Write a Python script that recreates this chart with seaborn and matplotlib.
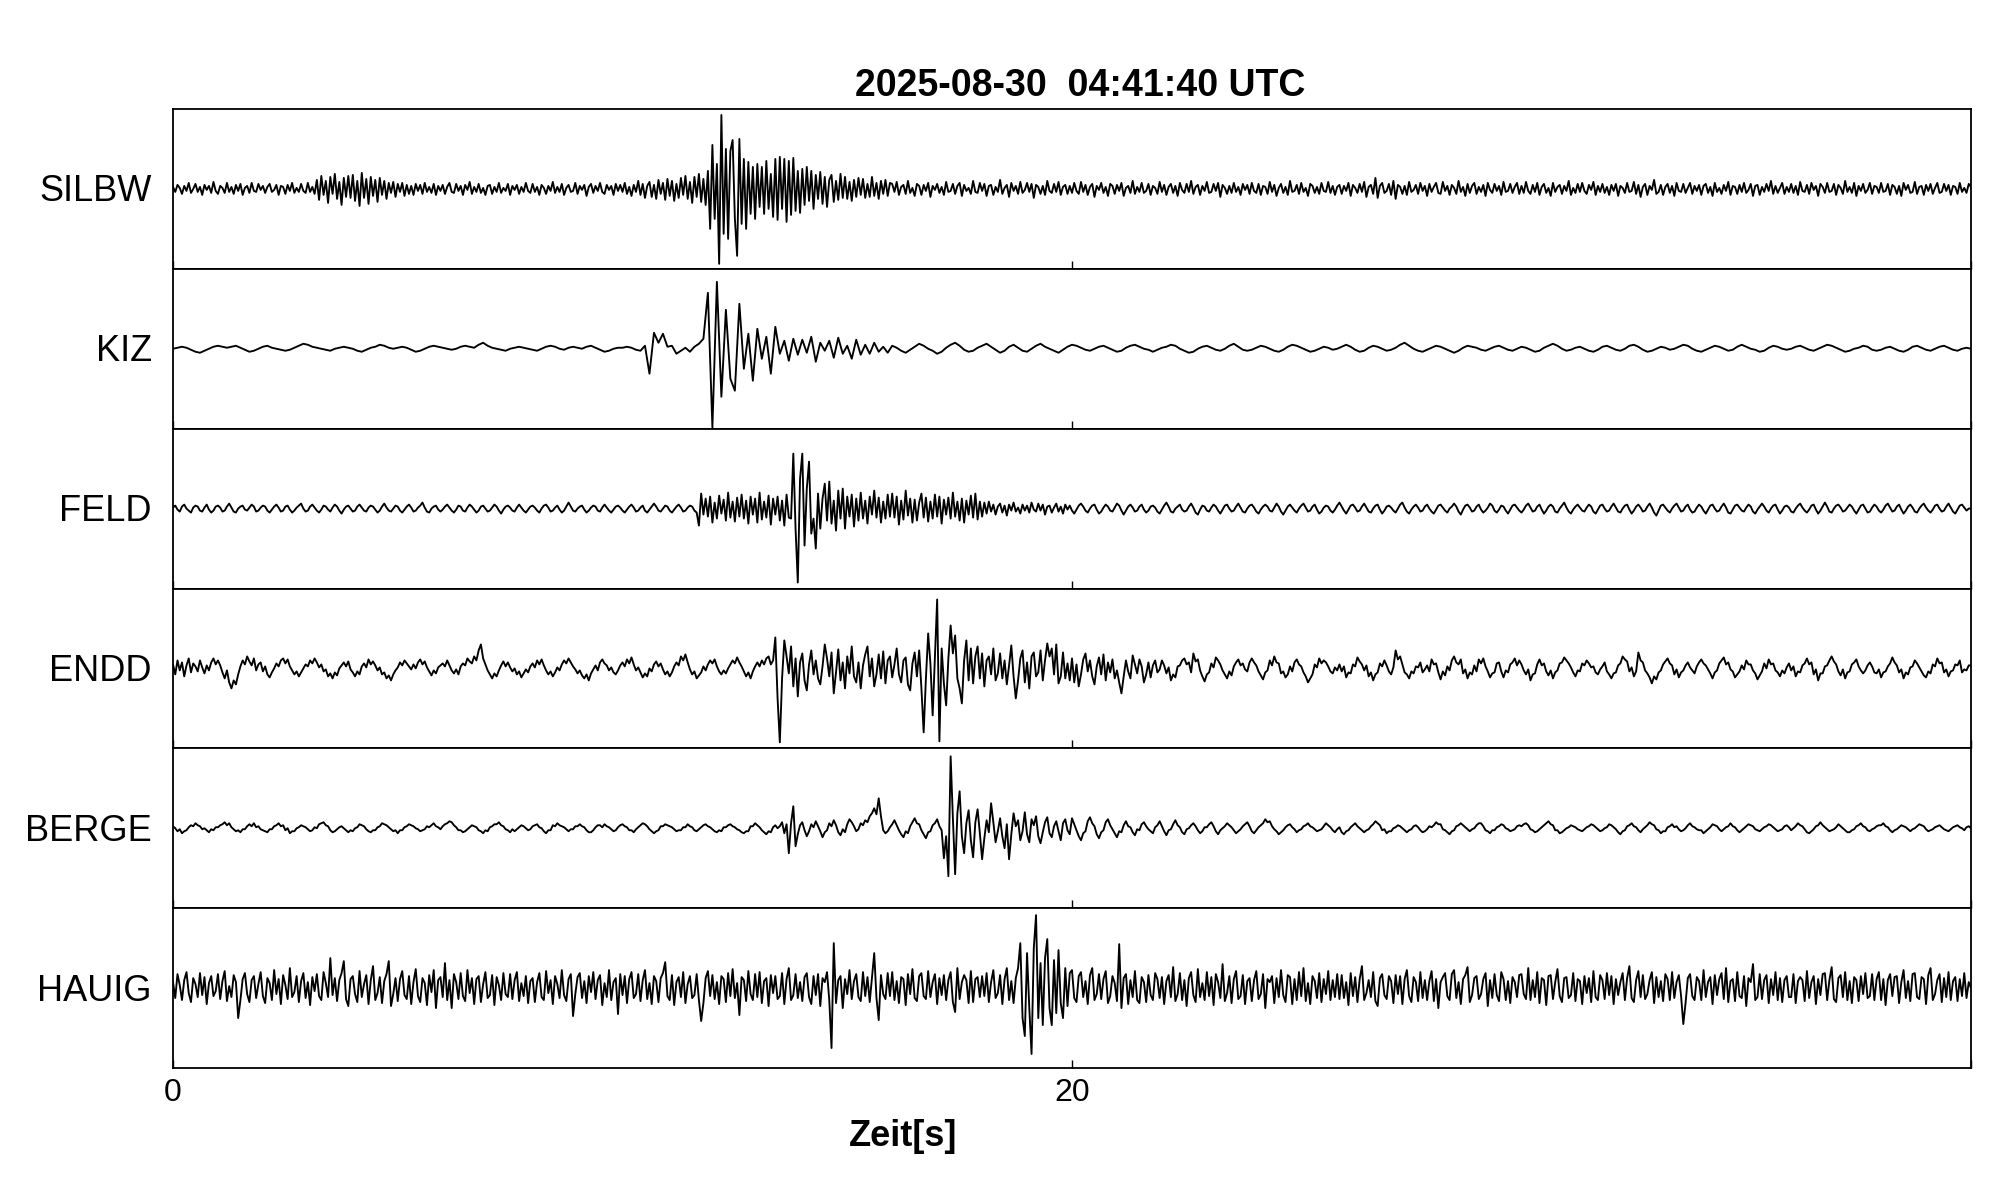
import numpy as np
import pandas as pd
import matplotlib
matplotlib.use("Agg")
import matplotlib.pyplot as plt
from matplotlib.transforms import offset_copy
import seaborn as sns

# ---------------- data ----------------
stations = ["SILBW", "KIZ", "FELD", "ENDD", "BERGE", "HAUIG"]
title_text = "2025-08-30  04:41:40 UTC"
xlabel_text = "Zeit[s]"
duration_s = 40.0
xtick_values = [0, 20, 40]
xtick_labels = ["0", "20", ""]

# SILBW: one sample every 0.05 s, rows of 2 s
SILBW = [
    2, -3, 4, 1, -5, 3, -2, 6, -4, 0, 5, -3, 2, -6, 4, -1, 3, -4, 7, -2, -5, 3, 1, -4, 6, -3, 2, -5, 4, -2, 5, -6, 1, 3, -4, 6, -2, -3, 5, -1,
    3, -4, 2, 5, -3, -1, 4, -6, 3, 2, -5, 4, -2, 6, -4, 1, -3, 5, -2, -4, 6, -3, 2, -5, 9, -11, 13, -6, 8, -14, 12, -5, 15, -10, 7, -16, 11, -8, 13, -9,
    14, -12, 8, -17, 16, -9, 10, -15, 12, -7, 9, -13, 11, -6, 8, -10, 6, -4, 7, -8, 5, -3, 6, -7, 4, -5, 3, -6, 5, -2, 4, -5, 6, -3, 2, -4, 5, -6, 3, -2,
    4, -5, 2, 6, -3, -4, 5, -2, 3, -6, 4, -1, 7, -5, 2, -3, 5, -4, 1, -6, 3, 4, -5, 2, -3, 6, -4, 1, -2, 5, -6, 3, -1, 4, -5, 2, -3, 6, -2, -4,
    5, -3, 2, -6, 4, 1, -5, 3, -2, 7, -4, 2, -3, 5, -6, 1, 4, -3, -2, 6, -5, 3, -1, 4, -7, 2, 5, -4, 3, -2, 6, -3, -5, 4, -1, 3, -6, 5, -2, 4,
    -3, 6, -5, 2, -7, 4, -3, 8, -6, 5, -9, 3, 7, -8, 4, -10, 9, -5, 6, -11, 10, -7, 8, -12, 5, -9, 11, -6, 13, -10, 7, -14, 12, -8, 15, -13, 10, -16, 18, -40,
    44, -30, 25, -75, 74, -45, 40, -50, 38, 49, -30, -67, 50, -35, 30, -40, 27, -25, 22, -30, 25, -18, 22, -25, 28, -20, 15, -28, 30, -31, 32, -20, 30, -33, 28, -26, 31, -22, 18, -24,
    20, -16, 22, -12, 18, -20, 14, -10, 17, -15, 12, -18, 9, 14, -13, 8, -11, 15, -9, 12, -10, 7, -12, 9, -8, 11, -6, 10, -9, 5, -8, 12, -7, 6, -10, 8, -5, 9, -7, 6,
    5, -3, 7, -6, 2, 4, -5, 8, -4, 1, -7, 5, 3, -6, 4, -2, 6, -8, 3, -1, 5, -4, 2, -6, 7, -3, -2, 5, -5, 3, 6, -7, 4, -2, 1, -5, 8, -3, -4, 6,
    -2, 5, -7, 3, 4, -6, 2, -3, 9, -5, 1, 4, -8, 6, -2, 3, -5, 7, -4, -1, 6, -3, 5, -9, 4, 2, -5, 3, -6, 8, -2, -4, 5, -3, 7, -6, 2, 4, -5, 3,
    -4, 6, -2, -5, 7, -3, 4, -6, 2, 5, -8, 3, -1, 6, -4, 2, -7, 5, 3, -5, 4, -2, 6, -7, 1, 3, -4, 8, -5, 2, -3, 6, -4, -2, 5, -6, 3, 1, -5, 7,
    -3, 4, -6, 2, 5, -4, 3, -7, 6, -1, -4, 5, -3, 8, -5, 2, 4, -6, 3, -2, 7, -4, -3, 5, -2, 6, -8, 4, 1, -5, 3, -4, 6, -3, 2, -6, 5, -1, 4, -5,
    6, -2, -4, 5, -6, 3, 2, -5, 7, -3, 4, -7, 1, 5, -4, 2, -6, 8, -3, -2, 4, -5, 6, -3, 1, -7, 5, 3, -4, 2, -5, 6, -2, -3, 7, -4, 3, -6, 2, 4,
    -5, 3, -2, 6, -7, 4, 1, -4, 5, -3, 7, -8, 2, 4, -5, 11, -9, 3, 6, -4, -2, 5, -6, 8, -10, 4, 2, -5, 3, -6, 7, -3, -1, 4, -5, 6, -2, 3, -7, 5,
    -3, 2, 6, -4, -5, 7, -2, 3, -6, 4, 1, -5, 8, -3, 2, -7, 5, -4, 3, 6, -5, 2, -3, 4, -7, 6, -1, -4, 5, -2, 3, -6, 7, -3, -2, 5, -4, 2, 6, -5,
    3, -4, 7, -2, -5, 4, -3, 6, -6, 2, 5, -4, 1, -7, 6, -3, 2, 4, -5, 3, -2, 8, -6, 1, -4, 5, -3, 6, -2, -5, 4, -1, 7, -6, 3, -3, 5, -4, 2, -6,
    4, -2, 5, -7, 3, 1, -4, 6, -3, -2, 7, -5, 4, -8, 2, 5, -6, 3, -1, 9, -5, -3, 4, -6, 2, 5, -4, 3, -7, 6, -2, -3, 5, -4, 1, 6, -5, 3, -2, 4,
    -6, 3, 5, -4, 2, -7, 6, -3, 1, -5, 4, -2, 7, -6, 3, 2, -5, 4, -3, 6, -4, -1, 5, -7, 3, 4, -6, 2, -3, 5, -2, 8, -5, 3, -4, 1, 6, -5, 2, -3,
    5, -4, 3, -6, 7, -2, -3, 4, -5, 6, -1, 3, -7, 5, 2, -4, 6, -3, -2, 5, -6, 4, 1, -5, 8, -3, 2, -4, 6, -7, 3, -2, 5, -4, -1, 6, -5, 3, 2, -4,
    6, -3, -2, 5, -6, 4, 2, -5, 3, -7, 6, -1, 4, -4, -3, 7, -5, 2, 3, -6, 4, -2, 5, -5, 1, 6, -4, -3, 5, -2, 4, -6, 3, 2, -5, 6, -3, 1, -4, 5,
    2,
]

# KIZ: one sample every 0.1 s, rows of 2 s
KIZ = [
    0, 1, 2, 1, -1, -3, -4, -2, 0, 2, 3, 2, 1, 2, 3, 1, -1, -3, -2, 0,
    2, 3, 1, 0, -1, -2, -1, 1, 3, 5, 4, 2, 1, 0, -1, -2, 0, 1, 2, 1,
    0, -2, -3, -1, 1, 2, 4, 3, 1, 0, 1, 2, 1, -1, -3, -2, 0, 2, 3, 2,
    1, 0, -1, 0, 2, 3, 2, 1, 4, 6, 3, 1, 0, -1, -2, 0, 1, 2, 1, 0,
    -1, -2, 0, 2, 3, 2, 0, -1, 1, 2, 1, 0, 2, 3, 1, -1, -3, -2, 0, 1,
    1, 2, 1, -1, -2, 3, -25, 16, 6, 15, 2, 3, -5, -2, 1, -3, 2, 5, 10, 56,
    -79, 67, -48, 39, -30, -42, 45, -20, 15, -32, 20, -10, 12, -25, 22, -5, 8, -12, 10, -6,
    9, -4, 12, -13, 6, -2, 8, -9, 11, -5, 3, -10, 9, -6, 4, -5, 6, -3, 2, -4,
    3, 1, -2, -4, -1, 2, 5, 3, 0, -2, -5, -3, 1, 4, 6, 3, -1, -3, -2, 1,
    3, 5, 2, -1, -4, -2, 2, 4, 1, -2, -3, 0, 3, 5, 2, 0, -2, -4, -1, 2,
    4, 3, 1, -1, -2, 0, 2, 3, 1, -1, -3, -2, 1, 3, 4, 2, 0, -1, -3, -1,
    1, 2, 4, 3, 0, -2, -4, -3, 0, 2, 3, 1, -1, -2, 0, 3, 5, 2, -1, -2,
    -1, 1, 3, 2, 0, -2, -3, -1, 2, 4, 3, 1, -1, -3, -2, 0, 2, 1, -1, 0,
    2, 4, 2, -1, -3, -2, 1, 3, 2, 0, -2, -1, 1, 4, 6, 3, 0, -2, -3, -1,
    1, 3, 2, 0, -2, -4, -2, 1, 3, 2, 1, -1, -2, 0, 2, 3, 1, -1, -2, 0,
    2, 1, -1, -3, -2, 1, 3, 5, 3, 0, -2, -1, 1, 2, 0, -2, -3, -1, 2, 3,
    1, -1, -2, 0, 3, 4, 2, -1, -3, -2, 0, 2, 1, -1, 0, 2, 4, 3, 0, -2,
    -3, -1, 1, 3, 2, 0, -2, -1, 2, 4, 2, 0, -1, -3, -2, 1, 3, 2, 0, -1,
    0, 2, 3, 1, -1, -2, 0, 2, 4, 3, 1, -1, -3, -2, 0, 1, 3, 2, -1, -2,
    -1, 1, 2, 0, -2, -3, -1, 2, 3, 1, -1, -2, 0, 2, 3, 1, -1, -2, 0, 1,
    0,
]

# FELD, ENDD, BERGE, HAUIG: one sample every 0.05 s, rows of 2 s
FELD = [
    1, 3, -1, -3, 2, 4, 0, -2, -4, 1, 3, 2, -2, -3, 1, 4, -1, -4, -2, 2, 3, 1, -3, -2, 2, 5, 1, -3, -4, 0, 2, 3, -1, -2, 1, 4, 2, -3, -2, 1,
    3, 2, -2, -4, -1, 2, 4, 1, -3, -2, 2, 3, -1, -4, -2, 1, 3, 5, 0, -3, -2, 2, 4, 1, -2, -4, -1, 3, 2, -1, -3, 1, 4, 2, -2, -5, -1, 2, 3, 0,
    -3, -2, 2, 4, 1, -2, -3, 1, 3, 2, -1, -4, -2, 2, 5, 1, -2, -3, 0, 3, 2, -2, -4, -1, 2, 4, 1, -3, -2, 1, 3, 6, 1, -3, -4, 0, 2, 3, -1, -3,
    -1, 2, 4, 1, -2, -4, -1, 3, 2, -2, -3, 1, 4, 2, -1, -4, -2, 2, 3, 0, -3, -2, 1, 4, 2, -2, -5, -1, 2, 3, 1, -2, -3, 1, 4, 1, -2, -4, -1, 2,
    3, 1, -2, -4, 0, 3, 4, 1, -3, -2, 1, 3, -1, -4, -2, 2, 6, 2, -2, -3, 0, 2, 3, -1, -4, -2, 1, 3, 2, -2, -3, 1, 4, 1, -2, -4, -1, 2, 3, 1,
    -2, -4, -1, 2, 4, 1, -3, -2, 1, 3, -2, -4, -1, 2, 5, 2, -2, -3, 0, 3, 2, -2, -4, -1, 2, 4, 1, -3, -2, 1, 3, 2, -2, -4, -17, 15, -6, 10, -8, 12,
    -14, 6, -10, 13, -5, 9, -12, 16, -9, 7, -13, 11, -8, 14, -10, 8, -15, 12, -6, 10, -14, 16, -11, 7, -9, 13, -16, 10, -6, 12, -12, 8, -17, 14, -9, -10, 55, -20, -74, 30,
    55, -37, 20, 47, -25, -10, -40, 15, -20, 10, 25, -12, 27, -15, 8, -22, 18, -10, 20, -20, 12, -8, 14, -18, 10, -12, 16, -10, 8, -15, 12, -6, 18, -9, 11, -14, 7, -10, 14, -8,
    15, -9, 12, -16, 8, -11, 18, -7, 10, -14, 9, -12, 6, 15, -9, 11, -13, 7, -10, 14, -8, 12, -15, 9, -6, 11, -10, 16, -8, 7, -12, 10, -14, 8, -6, 13, -9, 15, -11, 7,
    -8, 6, -5, 7, -3, 4, -6, 2, 5, -4, 3, -7, 4, -2, 6, -3, 1, -5, 4, -2, 3, -4, 6, -1, -3, 5, -2, 4, -6, 2, 3, -4, 1, 5, -3, 2, -5, 4, -1, 3,
    -2, -5, -1, 3, 5, 2, -2, -4, 0, 3, 4, -1, -5, -3, 1, 4, 2, -2, -3, 1, 5, 3, -2, -6, -2, 2, 4, 1, -3, -2, 2, 4, -1, -4, -2, 2, 3, 1, -3, -5,
    -1, 3, 6, 2, -3, -4, 0, 2, 4, -1, -3, -2, 2, 5, 1, -4, -6, -1, 3, 2, -2, -3, 1, 4, 2, -2, -5, -1, 3, 4, 0, -3, -2, 2, 5, 1, -3, -4, 0, 3,
    4, 1, -3, -5, -1, 2, 4, 2, -2, -3, 1, 5, 2, -3, -6, -2, 2, 4, 1, -2, -4, 0, 3, 5, 1, -3, -2, 2, 4, -1, -5, -3, 1, 3, 2, -2, -4, -1, 3, 6,
    2, -2, -5, -1, 3, 4, 1, -3, -2, 2, 5, 1, -3, -4, 0, 3, 4, -1, -5, -2, 2, 3, 1, -2, -4, 0, 4, 6, 1, -3, -5, -1, 2, 4, 1, -3, -2, 2, 4, 0,
    -3, -5, -1, 3, 4, 1, -2, -4, 0, 2, 5, 2, -3, -6, -1, 3, 4, 1, -3, -2, 2, 4, -1, -4, -2, 1, 5, 3, -2, -4, -1, 3, 2, -2, -5, -1, 3, 4, 1, -2,
    -4, -1, 3, 5, 1, -3, -2, 2, 4, -1, -5, -2, 2, 4, 2, -3, -4, 0, 3, 6, 1, -3, -5, -1, 2, 4, 1, -2, -3, 1, 4, 2, -3, -5, -1, 3, 4, 0, -3, -2,
    2, 5, 1, -3, -4, 0, 3, 4, -1, -5, -2, 2, 4, 1, -3, -2, 2, 5, 1, -4, -7, -2, 3, 4, 1, -2, -4, 0, 3, 5, 1, -3, -2, 2, 4, -1, -4, -3, 1, 4,
    2, -2, -5, -1, 3, 4, 0, -3, -2, 2, 5, 1, -4, -5, -1, 3, 4, 1, -2, -3, 1, 4, 2, -3, -5, -1, 2, 5, 2, -2, -4, 0, 3, 4, -1, -5, -2, 2, 3, 1,
    -3, -4, 0, 3, 5, 1, -2, -4, -1, 3, 4, -1, -5, -2, 2, 6, 2, -3, -4, 0, 3, 4, 1, -3, -2, 1, 4, 2, -2, -5, -1, 3, 4, 0, -4, -3, 1, 4, 2, -2,
    -4, -1, 3, 5, 1, -3, -2, 2, 4, -1, -5, -2, 2, 4, 1, -3, -4, 0, 3, 5, 1, -2, -4, -1, 3, 4, 0, -3, -2, 2, 5, 1, -3, -5, -1, 3, 4, 1, -2, 0,
    0,
]

ENDD = [
    4, -6, 8, -2, 6, -8, 3, 10, -4, 5, 2, -3, 8, 1, -5, 3, -2, 6, 10, 4, 8, 3, -4, -10, -2, -14, -20, -12, -16, -6, 2, 8, 4, 12, 7, 3, 10, -2, 4, 6,
    -3, 2, -6, -9, -4, 0, 5, 2, 8, 10, 5, 9, 2, -2, -6, -3, -8, -4, 0, 4, 2, 8, 5, 10, 6, 1, 4, -3, -1, -8, -5, -10, -4, -7, 0, 3, 6, 2, 7, -1,
    -4, -8, -3, -6, 2, 5, 1, 9, 4, 7, 3, -2, 1, -6, -4, -10, -7, -12, -6, -2, 1, 6, 3, 8, 5, 2, -1, 4, 0, 6, 9, 4, 7, 1, -3, -7, -2, -5, 1, 3,
    5, 2, 8, 3, -2, -5, -1, -6, 2, 5, 3, 10, 7, 5, 12, 8, 18, 24, 10, 4, -2, -6, -10, -5, -8, -2, 3, 7, 2, 6, 1, -3, 0, -6, -3, -9, -5, -1, -4, 2,
    5, 1, 8, 4, 9, 3, -2, -6, -3, -8, -4, 1, -2, 4, 8, 5, 10, 6, 2, -1, -5, -2, -7, -10, -6, -12, -5, -1, 3, -2, 6, 9, 5, 3, -2, 1, -4, -6, -2, 3,
    6, 2, 9, 5, 11, 4, -2, 1, -4, -9, -5, -8, 0, -3, 4, 7, 2, 5, -1, -6, -3, -8, -4, 2, 6, 3, 12, 8, 14, 6, -1, -6, -3, -10, -7, -4, 2, -2, 4, 8,
    5, 9, 2, -3, -6, -2, -5, 0, 4, 8, 5, 11, 6, 2, -3, -8, -4, -10, -3, 2, 6, 2, 8, 4, 10, 12, 4, 8, 31, -30, -74, -10, 28, 12, -5, 22, -18, 10, -28, 6,
    15, -12, -22, 4, 18, -6, 8, -10, -16, 2, 24, 10, -8, 16, -25, -4, 19, -12, 6, -20, 12, -5, 22, -8, -14, 6, -20, 3, 14, 22, -8, 10, -18, -6, 14, -10, 17, -15, 8, 12,
    -9, 4, 20, -6, -14, 8, 11, -16, -22, 5, 16, -8, 18, -20, -64, -10, 35, 5, -47, 10, 69, -73, 20, -15, -37, 10, 43, 15, 33, -10, -20, -35, 8, 28, -12, 20, -15, 12, 22, -10,
    15, -18, 8, 12, -6, 20, -12, -5, 15, -10, 8, -16, 3, 23, -8, -30, -12, 10, 18, -14, 6, -20, 12, 16, -8, -4, 18, -12, 8, 25, 12, 20, -6, 24, -15, -8, 16, -10, 5, -12,
    10, -14, 4, -18, -6, 9, 15, -3, 8, -8, -16, 2, 11, -6, 14, -12, 6, -4, 9, -10, -2, -14, -25, -8, 8, -3, -10, 13, 4, -5, 9, 2, -14, -6, 6, -9, 3, 8, -4, -1,
    8, 3, -5, 1, -12, -6, -9, 2, 3, 8, 10, 4, 6, -4, 15, 7, 9, -2, -8, -13, -6, -4, 5, 1, 11, 8, 4, -2, -6, -10, -3, -7, 2, 6, 9, 3, 5, -1, -3, 6,
    10, 6, 3, -3, -7, -11, -4, -2, 8, 3, 12, 6, 5, -5, -3, -9, -6, 2, -3, 6, 9, 4, 2, -4, -8, -14, -10, -6, 4, 1, 10, 5, 8, 6, 2, -3, -5, 1, -2, 4,
    -3, 2, -9, -4, -5, 4, 2, 11, 7, 4, -2, 3, -8, -4, -12, -6, -4, 5, 2, 8, 3, -3, -6, 1, 18, 9, 12, 4, -4, -6, -10, -3, -5, 2, 1, 6, -4, -1, 3, -3,
    9, 4, 5, -4, -11, -3, -7, 2, -2, 8, 12, 6, 4, 9, -5, -1, -10, -4, -6, 3, -3, 9, 5, 10, 2, -3, -9, -5, -4, 5, 6, -3, -9, -2, -4, 4, 6, 10, 3, 8,
    4, -2, -6, -1, -12, -6, -5, 4, 9, 3, 5, -3, -7, -2, -10, -4, -2, 5, 6, 11, 8, 5, 1, -4, -8, -2, -3, 5, 3, 8, 5, 1, 2, -4, -6, -1, 2, 6, -3, -6,
    -10, -5, -4, 3, 5, 12, 9, 7, -3, 1, -8, -3, 16, 8, 6, -2, -5, -9, -15, -8, -11, -4, -2, 4, 7, 10, 5, 3, -6, -1, -9, -4, -2, 3, 6, 1, -2, -5, 2, 6,
    9, 5, 3, -1, -5, -10, -4, -2, 5, 8, 11, 4, 6, -1, -3, -9, -6, -3, 3, -1, 8, 4, 4, -2, -5, -11, -7, -3, 5, 0, 9, 4, 5, -2, -4, -8, -2, -5, 1, 5,
    -2, 2, -8, -3, -4, 3, 5, 10, 4, 6, -6, -1, -12, -5, -5, 2, 3, 8, 12, 7, 4, -3, -7, -1, -10, -4, -3, 4, 6, 9, 2, -2, -5, -2, 3, 6, 2, -4, -5, -1,
    -9, -4, -3, 2, 5, 11, 6, 3, -4, -1, -10, -4, -6, 1, 2, 8, 5, 1, -3, -7, -9, -3, -5, 4, 2, 10, 5, 6, -4, -1, -8, -3, -2, 4, 3, 8, -4, -1, -2, 3,
    3,
]

BERGE = [
    2, 0, -3, -1, -5, -3, -2, 1, 3, 2, 5, 3, 2, -1, 0, -2, -4, -1, -2, 1, 1, 3, 4, 6, 3, 5, 1, -1, -3, -2, -4, -1, -1, 2, 4, 2, 5, 1, 2, -1,
    -2, -3, -4, -1, -1, 2, 3, 5, 2, 3, -2, 0, -5, -3, -3, 0, 1, 3, 2, 1, -1, -3, -2, 1, 0, 4, 5, 6, 3, 2, -2, -4, -3, -1, 1, 2, 0, -2, -4, -2,
    -3, 0, 1, 4, 3, 2, -1, -3, -4, -2, -2, 1, 2, 5, 4, 3, 1, -1, -3, -2, -5, -2, -2, 1, 2, 4, 3, 2, 0, -1, -3, -2, -1, 2, 1, 3, 5, 2, 1, -1,
    2, 4, 5, 7, 6, 3, 1, -2, -2, -4, -3, -1, 1, 3, 2, 1, -2, -3, -5, -2, -3, 1, 2, 4, 4, 6, 3, 2, -1, -2, -4, -1, -3, -1, 1, 3, 2, 0, -2, -1,
    2, 3, 4, 1, 0, -3, -5, -2, -2, 3, 2, 5, 3, 2, 1, -1, -3, -1, -1, 2, 2, 4, 2, 1, -2, -4, -4, -2, 1, 3, 3, 1, 4, 2, 1, -1, -3, -2, 1, 3,
    4, 2, 1, -2, -2, -4, -1, 1, 3, 5, 4, 2, -1, -3, -5, -3, -2, 2, 2, 4, 3, 2, 1, -1, -3, -2, -2, 1, 1, 4, 2, 1, -2, -3, -1, 1, 3, 4, 2, 1,
    -1, -3, -4, -2, -3, 1, 1, 3, 4, 2, 1, -1, -2, -4, -5, -3, -3, 2, 2, 5, 3, 1, -2, -4, -6, -3, -4, 1, 3, 0, 2, 6, -5, 4, -25, 5, 22, -18, -6, 3,
    6, -2, -8, -3, 4, 1, 7, 2, -3, -9, -4, -2, 5, 2, 8, 3, -4, -7, -1, -4, 4, 9, 6, 2, -3, -1, 5, 3, 8, 6, 12, 15, 20, 14, 30, 12, -2, -5, -3, 1,
    4, 8, 3, -2, -6, -9, -3, -5, 2, 6, 10, 5, 4, -2, -6, -10, -4, -3, 3, 5, 9, 2, -2, -30, -8, -48, 72, 10, -46, 15, 37, -8, -25, 5, 18, -12, -29, 6, 19, -5,
    -31, -10, 8, -4, 25, 6, -14, -3, 10, -8, -20, 4, -31, -6, 15, 2, 8, -12, -3, 16, -6, -14, 9, 3, 12, -8, -15, -4, 6, 11, -5, -9, 2, 7, -3, -12, 5, 9, -2, -6,
    10, 4, -2, -8, -12, -5, -3, 7, 11, 5, 2, -6, -10, -4, -2, 6, 9, 3, -1, -5, -9, -3, -4, 3, 7, 2, 1, -4, -7, -1, -2, 4, 6, 2, -1, -3, -5, 1, 3, 7,
    2, -3, -7, -2, -1, 4, 8, 3, 1, -4, -6, -1, 0, 3, 5, 2, -2, -5, -3, 1, 1, 4, 6, 2, -3, -6, -2, 0, 2, 5, 3, 1, -2, -5, -3, -1, 2, 4, 6, 2,
    -3, -5, -2, 1, 3, 5, 9, 6, 7, 2, -1, -3, -6, -4, -2, 1, 3, 4, 1, -1, -4, -2, -1, 2, 3, 5, 2, 1, -1, -3, -2, -1, 2, 5, 3, 1, -2, -4, -1, 1,
    -4, -6, -3, -2, 1, 3, 5, 2, 0, -2, -4, -2, -1, 2, 4, 7, 5, 3, -2, -1, -5, -3, -3, 0, 1, 3, 2, 0, -2, -4, -2, -1, 2, 3, 1, -2, -4, -3, -1, 2,
    1, 3, 6, 4, 4, -1, -2, -4, -6, -3, -2, 2, 3, 5, 3, 1, -1, -3, -1, 0, 3, 5, 5, 2, -2, -3, -5, -2, -2, 1, 2, 4, 3, 0, -1, -3, -2, -1, 2, 3,
    2, 4, 5, 3, -1, -2, -4, -3, -1, 1, 3, 5, 7, 4, 3, -2, -2, -5, -4, -2, 0, 1, 3, 2, 1, -1, -2, -3, -1, 1, 2, 4, 3, 1, -1, -3, -2, 0, 1, 4,
    3, 1, -1, -4, -6, -3, -2, 2, 3, 5, 2, 1, -2, -4, -1, 1, 3, 6, 4, 3, -1, -2, -5, -3, -3, 1, 2, 4, 1, 2, -1, -3, -2, 0, 3, 5, 2, 1, -1, -2,
    -2, -5, -3, -1, 1, 4, 3, 2, -1, -3, -1, 1, 2, 5, 2, 1, -2, -4, -2, 0, 2, 4, 3, 2, -1, -2, -3, -1, 1, 2, 4, 3, 1, -1, -3, -2, -1, 2, 3, 1,
    -2, 0, 2, 5, 3, 2, -1, -4, -5, -3, -1, 2, 3, 6, 3, 1, -1, -3, -2, -1, 1, 4, 2, 0, -2, -4, -4, -2, -1, 2, 3, 5, 2, 1, -2, -3, -1, 0, 2, 3,
    3, 5, 2, 1, -2, -4, -2, -1, 1, 3, 2, 1, -1, -3, -1, 0, 2, 4, 3, 2, -1, -3, -2, -1, 1, 2, 3, 1, -1, -2, -3, -1, 1, 2, 3, 1, 0, -2, 1, 2,
    0,
]

HAUIG = [
    6, -10, 14, 3, -12, 8, 16, -5, -14, 10, 4, -9, 15, -7, 11, -16, 5, 12, -8, -3, 14, -11, 7, 17, -13, 2, -9, 13, 6, -30, -12, 9, 15, -6, -14, 8, 12, -10, 4, 16,
    -8, -15, 10, 5, -12, 18, -6, 9, -16, 13, 3, -11, 20, -9, -4, 12, -14, 7, 15, -10, 6, -17, 11, -3, 14, -8, -12, 16, 5, -9, 30, -7, 10, -13, 8, 15, 27, -11, -18, 9,
    12, -6, -14, 17, -9, 4, 13, -16, 8, 22, -12, -5, 11, -15, 7, 14, 27, -18, -6, 10, -13, 9, 17, -7, -11, 12, -16, 6, 19, -8, -14, 10, 5, -17, 13, -4, 18, -20, 8, 11,
    -9, 25, -12, 8, -20, 14, 6, -11, 15, -8, -13, 18, -5, 10, -16, 9, 12, -14, 4, 16, -10, -7, 13, -17, 11, 3, -12, 15, -6, -9, 14, -11, 8, 16, -13, 5, -8, 12, -15, 7,
    10, -14, 6, 15, -9, -12, 17, -5, 8, -16, 12, 4, -10, 18, -7, -13, 9, 14, -28, -6, 11, 15, -10, 7, -15, 12, -4, 16, -11, 8, 13, -17, 5, -9, 18, -12, 6, 10, -26, 14,
    -7, 12, -15, 9, 16, -10, -6, 14, -13, 8, 18, -11, 5, -16, 12, 7, -14, 10, 15, 26, -8, -12, 13, -17, 6, 11, -9, 16, -15, 4, 12, -10, -7, 14, -12, -33, -15, 10, 17, -8,
    13, -11, 6, -16, 12, 9, -14, 15, -8, 19, -10, 5, -27, 11, 8, -13, 17, -6, -12, 14, -9, 16, -15, 7, 10, -18, 13, -5, 12, -11, -8, 15, -16, 9, 20, -12, -7, 14, -10, 6,
    -13, 11, 15, -9, -16, 12, -7, 14, -18, 10, 6, 16, -12, -60, 45, -15, 8, 12, -20, 9, -6, 18, -11, 7, 14, -9, -13, 16, -8, 11, -14, 10, 35, -10, -32, 13, -6, -11, 15, -8,
    16, -12, 7, -15, 11, 9, -17, 14, -6, 19, -10, -13, 12, 15, -8, -11, 17, -9, 6, 14, -16, 10, -7, 13, -12, 8, 16, -14, -24, 20, -11, 6, 13, 8, -15, 17, -14, 9, 11, -9,
    12, -8, 15, -14, 6, 18, -10, -5, 13, -16, 9, 20, -12, 7, -15, 10, 20, 45, -30, -48, 35, -20, -66, 40, 73, -30, 25, -37, 30, 49, -20, -37, 28, -25, 38, -15, -30, 20, -18, 15,
    18, -10, -14, 12, 16, -9, 7, -16, 13, 20, -12, -6, 14, -11, 9, 17, -15, -8, 12, 5, -13, 44, -20, 10, 14, -16, 8, -9, 17, -12, -15, 11, 6, -14, 13, -7, -12, 15, 9, -10,
    11, -16, 7, 13, -9, 21, -13, -6, 15, -12, 8, -18, 10, 16, -7, -14, 19, -9, 5, -12, 16, -8, 11, -17, 14, 6, -10, 24, -13, -5, 12, -15, 9, 17, -11, -8, 13, -16, 7, 10,
    -13, 8, 17, -11, -6, 14, -20, 9, 6, 12, -15, 10, -9, 18, -7, -14, 13, 11, -16, 9, -12, 16, -8, 20, -13, 5, -16, 12, 7, -10, 15, -14, 9, -6, 17, -12, 8, -9, 14, -11,
    13, -10, 6, -17, 15, -8, 11, -14, 9, 22, -12, -5, 8, -9, 16, -13, -18, 10, 14, -7, -11, 12, 7, -15, 13, -6, 12, -16, 9, 18, -8, -14, 11, 6, -13, 16, -10, 8, -12, 7,
    17, -13, 9, -20, 6, 11, 15, -8, -12, 14, 18, -10, 6, -16, 9, 13, 21, -14, -7, 10, 12, -11, -6, 9, 15, -18, 8, -10, 14, -7, -13, 16, 9, -12, 7, -15, 11, 6, -9, 13,
    14, -6, -11, 20, -12, 8, -9, 16, -15, 10, 8, -17, 12, 13, -11, 6, 19, -8, -14, 10, 11, -10, -7, 15, -13, 9, 7, -16, 12, -5, 10, -14, 17, -9, -12, 13, 8, -11, 15, -7,
    12, -16, 9, -7, 6, 15, -12, 10, 22, -10, -14, 8, 17, -9, 13, -11, -6, 8, 16, -15, 11, -9, 7, -13, 14, 9, -12, 16, -10, 6, 13, -8, -36, -15, 10, 14, -8, -12, 11, 7,
    -12, 18, -9, 6, 11, -16, 13, -7, 9, 15, -11, 20, -14, 7, 9, -13, 16, -8, -10, 12, -18, 10, 6, 24, -12, -9, 14, -11, 8, 13, -15, 9, -7, 16, -12, 10, -14, 8, 12, -9,
    -9, 14, -15, 7, 11, 8, -13, 17, -10, 6, 12, -16, 9, -7, 14, 15, -12, 8, 21, -11, -14, 10, 13, -9, 16, -12, 7, -15, 11, 8, -13, 12, -6, 15, -10, -8, 14, -12, 9, 16,
    -12, 9, -17, 8, 14, -8, 11, 12, -15, 6, 18, -10, 7, -13, 14, 15, -9, -11, 11, 9, -16, 13, 20, -12, -6, 8, 14, -14, 10, -9, 16, -12, 7, 11, -13, 9, -8, 15, -10, 6,
    0,
]

traces = [SILBW, KIZ, FELD, ENDD, BERGE, HAUIG]

# ---------------- style ----------------
sns.set_style("white")
plt.rcParams["font.family"] = ["Liberation Sans", "DejaVu Sans"]

W, H = 2005, 1202
fig = plt.figure(figsize=(W / 100, H / 100), dpi=100)
gs = fig.add_gridspec(len(stations), 1, left=173 / W, right=1971 / W,
                      top=1 - 109 / H, bottom=1 - 1068 / H, hspace=0)

for i, (name, vals) in enumerate(zip(stations, traces)):
    ax = fig.add_subplot(gs[i])
    df = pd.DataFrame({"t": np.linspace(0, duration_s, len(vals)),
                       "amp": np.asarray(vals, dtype=float)})
    sns.lineplot(data=df, x="t", y="amp", ax=ax, color="black",
                 linewidth=1.35, estimator=None, sort=False)
    ax.set_xlim(0, duration_s)
    ax.set_ylim(-80, 80)
    ax.set_yticks([])
    ax.set_xlabel("")
    ax.set_ylabel("")
    ax.set_xticks(xtick_values)
    ax.set_xticklabels(xtick_labels, fontsize=23)
    ax.tick_params(axis="x", direction="in", length=6, width=1.0,
                   bottom=True, top=False, labelbottom=(i == len(stations) - 1),
                   labelsize=23, pad=7, colors="black")
    for sp in ax.spines.values():
        sp.set_color("black")
        sp.set_linewidth(1.3)
    lab_tr = offset_copy(ax.transAxes, fig=fig, x=0, y=-3, units="dots")
    ax.text(-0.0117, 0.5, name, transform=lab_tr, ha="right",
            va="center", fontsize=26, color="black")

fig.text(1080 / W, 1 - 86 / H, title_text, ha="center", va="center",
         fontsize=27, fontweight="bold", color="black")
fig.text(903 / W, 1 - 1136 / H, xlabel_text, ha="center", va="center",
         fontsize=26, fontweight="bold", color="black")

fig.savefig("out.png", dpi=100, facecolor="white")
